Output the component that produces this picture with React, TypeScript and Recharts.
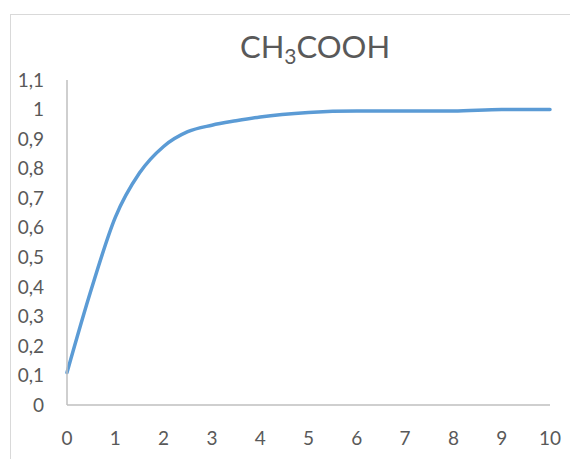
import React from "react"
import { LineChart, Line, XAxis, YAxis } from "recharts"

const xValues = [0, 0.5, 1, 1.5, 2, 2.5, 3, 3.5, 4, 5, 6, 7, 8, 9, 10]
const yValues = [0.11, 0.39, 0.635, 0.785, 0.875, 0.925, 0.947, 0.962, 0.975, 0.99, 0.995, 0.995, 0.995, 1.0, 1.0]
const xTicks = [0, 1, 2, 3, 4, 5, 6, 7, 8, 9, 10]
const yTicks = [0, 0.1, 0.2, 0.3, 0.4, 0.5, 0.6, 0.7, 0.8, 0.9, 1, 1.1]

const data = xValues.map((x, i) => ({ x, y: yValues[i] }))

const FONT = "Lato, 'Open Sans', sans-serif"
const TEXT = "#595959"
const AXIS = "#bfbfbf"

const fmt = (v: number) => String(+v.toFixed(1)).replace(".", ",")

export default function App() {
  return (
    <div
      style={{
        position: "absolute",
        left: 0,
        top: 0,
        width: 570,
        height: 459,
        overflow: "hidden",
        background: "#fff",
        fontFamily: FONT,
      }}
    >
      <div
        style={{
          position: "absolute",
          left: 10,
          top: 14,
          width: 600,
          height: 500,
          border: "1px solid #d9d9d9",
        }}
      />
      <div
        style={{
          position: "absolute",
          left: 0,
          width: 630,
          top: 26,
          textAlign: "center",
          fontSize: 31,
          color: TEXT,
          lineHeight: "40px",
        }}
      >
        CH<sub style={{ fontSize: 21, verticalAlign: "-6px", lineHeight: 0 }}>3</sub>COOH
      </div>
      <div style={{ position: "absolute", left: 0, top: 0 }}>
        <LineChart
          width={570}
          height={459}
          data={data}
          margin={{ top: 80, right: 20, bottom: 24, left: 17 }}
        >
          <XAxis
            dataKey="x"
            type="number"
            domain={[0, 10]}
            ticks={xTicks}
            height={30}
            tickSize={0}
            tickMargin={27}
            axisLine={{ stroke: AXIS, strokeWidth: 1.5 }}
            tick={{ fill: TEXT, fontSize: 19, fontFamily: FONT }}
          />
          <YAxis
            type="number"
            domain={[0, 1.1]}
            ticks={yTicks}
            width={50}
            tickSize={0}
            tickMargin={23}
            tickFormatter={fmt}
            axisLine={{ stroke: AXIS, strokeWidth: 1.5 }}
            tick={{ fill: TEXT, fontSize: 19, fontFamily: FONT }}
            allowDataOverflow
          />
          <Line
            type="monotone"
            dataKey="y"
            stroke="#5B9BD5"
            strokeWidth={3.5}
            dot={false}
            strokeLinecap="round"
            isAnimationActive={false}
          />
        </LineChart>
      </div>
    </div>
  )
}
